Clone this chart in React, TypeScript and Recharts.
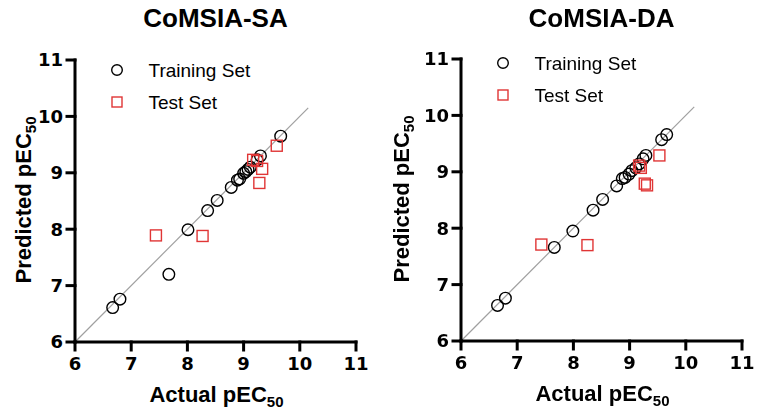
import React from 'react';
import { ScatterChart, Scatter, XAxis, YAxis, ReferenceLine } from 'recharts';

// CoMSIA-SA
const saTrainActual = [6.67, 6.80, 7.67, 8.01, 8.36, 8.53, 8.78, 8.89, 8.93, 9.00, 9.04, 9.08, 9.12, 9.24, 9.30, 9.66];
const saTrainPred = [6.61, 6.76, 7.20, 7.99, 8.33, 8.51, 8.74, 8.87, 8.89, 8.99, 9.02, 9.06, 9.10, 9.23, 9.30, 9.65];
const saTestActual = [7.44, 8.27, 9.17, 9.24, 9.33, 9.28, 9.59];
const saTestPred = [7.89, 7.88, 9.23, 9.21, 9.07, 8.82, 9.48];

// CoMSIA-DA
const daTrainActual = [6.65, 6.79, 7.66, 7.99, 8.35, 8.52, 8.77, 8.87, 8.92, 8.99, 9.04, 9.11, 9.17, 9.24, 9.29, 9.57, 9.66];
const daTrainPred = [6.63, 6.76, 7.66, 7.95, 8.32, 8.51, 8.75, 8.88, 8.90, 8.96, 9.02, 9.07, 9.14, 9.23, 9.29, 9.57, 9.66];
const daTestActual = [7.43, 8.25, 9.17, 9.20, 9.27, 9.31, 9.53];
const daTestPred = [7.71, 7.70, 9.11, 9.07, 8.79, 8.76, 9.29];

const axisTicks = [6, 7, 8, 9, 10, 11];
const lineEnds = [6, 10.15];

const RED = '#e03535';
const sans = '"Liberation Sans", Arial, sans-serif';

const toPoints = (xs: number[], ys: number[]) => xs.map((x, i) => ({ x, y: ys[i] }));

const CircleShape = (props: any) => (
  <circle cx={props.cx} cy={props.cy} r={5.8} fill="none" stroke="#000" strokeWidth={1.4} />
);

const SquareShape = (props: any) => (
  <rect x={props.cx - 5.5} y={props.cy - 5.5} width={11} height={11} fill="none" stroke={RED} strokeWidth={1.4} />
);

const tickStyle = { fill: '#000', fontSize: 18, fontWeight: 'bold', fontFamily: '"DejaVu Sans", sans-serif' };
const axisStroke = { stroke: '#000', strokeWidth: 3, strokeLinecap: 'square' as const };

function XTitle(props: any) {
  const vb = props.viewBox || {};
  return (
    <text x={vb.x + vb.width / 2 + 1} y={vb.y + 60} textAnchor="middle" fontFamily={sans} fontWeight="bold" fontSize={22} fill="#000">
      Actual pEC<tspan fontSize={15} dy={5}>50</tspan>
    </text>
  );
}

function YTitle(props: any) {
  const vb = props.viewBox || {};
  const cx = 31;
  const cy = vb.y + vb.height / 2 - 1;
  return (
    <text x={cx} y={cy} transform={`rotate(-90, ${cx}, ${cy})`} textAnchor="middle" fontFamily={sans} fontWeight="bold" fontSize={22} fill="#000">
      Predicted pEC<tspan fontSize={15} dy={5}>50</tspan>
    </text>
  );
}

interface PanelProps {
  title: string;
  train: { x: number; y: number }[];
  test: { x: number; y: number }[];
  left: number;
  width: number;
  yAxisWidth: number;
  top: number;
  right: number;
  xAxisHeight: number;
  legendTop: number;
}

function Panel({ title, train, test, left, width, yAxisWidth, top, right, xAxisHeight, legendTop }: PanelProps) {
  const plotCenter = yAxisWidth + (width - yAxisWidth - right) / 2;
  const legendX = plotCenter - 99 - 16;
  return (
    <div style={{ position: 'absolute', left, top: 0, width, height: 417 }}>
      <div
        style={{
          position: 'absolute', top: 5, left: 0, width: plotCenter * 2, textAlign: 'center',
          fontFamily: sans, fontWeight: 'bold', fontSize: 26, lineHeight: '26px', color: '#000',
        }}
      >
        {title}
      </div>
      <ScatterChart width={width} height={417} margin={{ top, right, bottom: 0, left: 0 }} style={{ overflow: 'visible' }}>
        <XAxis
          type="number"
          dataKey="x"
          domain={[6, 11]}
          ticks={axisTicks}
          allowDataOverflow
          height={xAxisHeight}
          tickSize={8}
          tickMargin={7}
          axisLine={axisStroke}
          tickLine={axisStroke}
          tick={tickStyle}
          label={{ content: (p: any) => <XTitle {...p} /> }}
        />
        <YAxis
          type="number"
          dataKey="y"
          domain={[6, 11]}
          ticks={axisTicks}
          allowDataOverflow
          width={yAxisWidth}
          tickSize={8}
          tickMargin={4}
          axisLine={axisStroke}
          tickLine={axisStroke}
          tick={tickStyle}
          label={{ content: (p: any) => <YTitle {...p} /> }}
        />
        <ReferenceLine
          segment={[{ x: lineEnds[0], y: lineEnds[0] }, { x: lineEnds[1], y: lineEnds[1] }]}
          stroke="#a0a0a0"
          strokeWidth={1.2}
        />
        <Scatter name="Training Set" data={train} shape={CircleShape} isAnimationActive={false} />
        <Scatter name="Test Set" data={test} shape={SquareShape} isAnimationActive={false} />
      </ScatterChart>
      <div style={{ position: 'absolute', left: legendX, top: legendTop, fontFamily: sans, fontSize: 19, color: '#000' }}>
        {[
          { name: 'Training Set', square: false },
          { name: 'Test Set', square: true },
        ].map((item) => (
          <div key={item.name} style={{ display: 'flex', alignItems: 'center', height: 32, lineHeight: '19px' }}>
            <svg width={32} height={20} style={{ display: 'block' }}>
              {item.square ? (
                <rect x={11} y={5} width={10} height={10} fill="none" stroke={RED} strokeWidth={1.4} />
              ) : (
                <circle cx={16} cy={10} r={5.3} fill="none" stroke="#000" strokeWidth={1.4} />
              )}
            </svg>
            <span style={{ marginLeft: 16 }}>{item.name}</span>
          </div>
        ))}
      </div>
    </div>
  );
}

export default function App() {
  return (
    <div style={{ position: 'fixed', left: 0, top: 0, width: 757, height: 417, background: '#fff' }}>
      <style>{'html, body { margin: 0; padding: 0; overflow: hidden; }'}</style>
      <Panel
        title="CoMSIA-SA"
        train={toPoints(saTrainActual, saTrainPred)}
        test={toPoints(saTestActual, saTestPred)}
        left={0}
        width={378}
        yAxisWidth={75}
        top={60}
        right={22}
        xAxisHeight={75}
        legendTop={54}
      />
      <Panel
        title="CoMSIA-DA"
        train={toPoints(daTrainActual, daTrainPred)}
        test={toPoints(daTestActual, daTestPred)}
        left={378}
        width={379}
        yAxisWidth={83}
        top={59}
        right={15}
        xAxisHeight={76}
        legendTop={47}
      />
    </div>
  );
}
